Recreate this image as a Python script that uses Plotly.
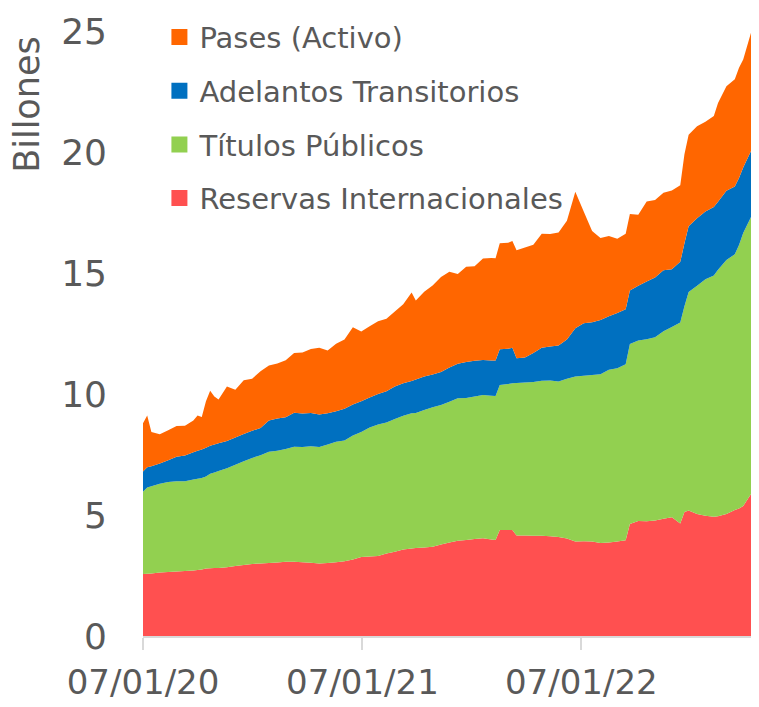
from datetime import date, timedelta

import plotly.graph_objects as go

# Semanas desde el 07/01/20 (dato semanal, muestreado)
INICIO = date(2020, 1, 7)
SEMANAS = [0, 1, 2, 4, 6, 8, 10, 12, 13, 14, 15, 16, 17, 18, 20, 22, 24, 26, 28, 30,
           32, 34, 36, 38, 40, 42, 44, 46, 48, 50, 52, 54, 56, 58, 60, 62, 64, 65, 67, 69,
           71, 73, 75, 77, 79, 81, 83, 84, 85, 87, 88, 89, 91, 93, 95, 97, 99, 101, 103, 105,
           107, 109, 111, 113, 115, 116, 118, 120, 122, 124, 126, 128, 129, 130, 132, 134, 136, 137, 139, 141,
           142, 143, 145, 146, 147]

# Billones de pesos
RESERVAS = [2.56, 2.57, 2.58, 2.62, 2.64, 2.67, 2.69, 2.71, 2.73, 2.75, 2.79, 2.80, 2.81, 2.81, 2.84, 2.89, 2.93, 2.98, 3.00, 3.02,
            3.04, 3.07, 3.07, 3.05, 3.03, 3.00, 3.02, 3.05, 3.09, 3.16, 3.26, 3.29, 3.31, 3.41, 3.48, 3.57, 3.62, 3.64, 3.66, 3.69,
            3.78, 3.86, 3.94, 3.97, 4.01, 4.04, 3.99, 3.97, 4.38, 4.38, 4.38, 4.15, 4.15, 4.14, 4.14, 4.12, 4.09, 4.03, 3.91, 3.92,
            3.91, 3.84, 3.86, 3.91, 3.96, 4.63, 4.75, 4.74, 4.77, 4.84, 4.91, 4.65, 5.12, 5.19, 5.04, 4.97, 4.93, 4.95, 5.04, 5.21,
            5.27, 5.37, 5.91, 5.95, 5.99]
TITULOS = [3.40, 3.57, 3.61, 3.67, 3.72, 3.72, 3.70, 3.76, 3.77, 3.78, 3.80, 3.90, 3.95, 4.01, 4.09, 4.19, 4.29, 4.38, 4.47, 4.59,
           4.62, 4.66, 4.75, 4.76, 4.81, 4.81, 4.89, 4.98, 4.99, 5.12, 5.17, 5.33, 5.43, 5.41, 5.49, 5.53, 5.58, 5.58, 5.68, 5.76,
           5.77, 5.82, 5.88, 5.86, 5.89, 5.92, 5.94, 5.95, 5.99, 6.03, 6.06, 6.30, 6.33, 6.36, 6.41, 6.44, 6.43, 6.60, 6.81, 6.83,
           6.87, 6.98, 7.14, 7.15, 7.27, 7.44, 7.46, 7.52, 7.58, 7.75, 7.86, 8.30, 8.51, 9.03, 9.43, 9.77, 9.97, 10.18, 10.50, 10.56,
           10.89, 11.28, 11.45, 11.74, 12.03]
ADELANTOS = [0.84, 0.83, 0.82, 0.84, 0.90, 1.02, 1.07, 1.12, 1.15, 1.18, 1.19, 1.16, 1.15, 1.14, 1.13, 1.12, 1.13, 1.12, 1.13, 1.30,
             1.33, 1.31, 1.41, 1.38, 1.38, 1.34, 1.29, 1.26, 1.31, 1.29, 1.27, 1.24, 1.26, 1.29, 1.34, 1.34, 1.34, 1.38, 1.38, 1.36,
             1.36, 1.41, 1.43, 1.49, 1.47, 1.45, 1.45, 1.46, 1.48, 1.46, 1.47, 1.03, 1.03, 1.19, 1.36, 1.40, 1.48, 1.62, 2.00, 2.17,
             2.19, 2.24, 2.21, 2.29, 2.27, 2.21, 2.26, 2.39, 2.46, 2.52, 2.38, 2.51, 2.60, 2.71, 2.79, 2.80, 2.83, 2.81, 2.86, 2.80,
             2.77, 2.71, 2.73, 2.73, 2.73]
PASES = [1.99, 2.14, 1.42, 1.21, 1.24, 1.27, 1.23, 1.32, 1.46, 1.34, 1.92, 2.27, 1.99, 1.81, 2.25, 1.98, 2.22, 2.15, 2.34, 2.27,
         2.27, 2.35, 2.46, 2.53, 2.64, 2.76, 2.60, 2.79, 2.86, 3.19, 2.88, 2.94, 3.01, 3.00, 3.10, 3.27, 3.65, 3.26, 3.51, 3.67,
         3.92, 3.96, 3.71, 3.94, 3.91, 4.19, 4.24, 4.23, 4.38, 4.38, 4.41, 4.46, 4.54, 4.48, 4.71, 4.65, 4.67, 4.91, 5.64, 4.62,
         3.77, 3.39, 3.32, 3.07, 3.12, 3.16, 2.94, 3.30, 3.21, 3.21, 3.26, 3.17, 3.68, 3.78, 3.80, 3.71, 3.76, 4.08, 4.32, 4.44,
         4.55, 4.46, 4.92, 4.59, 4.26]

SERIES = [
    ("Reservas Internacionales", RESERVAS, "#FF5050"),
    ("Títulos Públicos", TITULOS, "#92D050"),
    ("Adelantos Transitorios", ADELANTOS, "#0070C0"),
    ("Pases (Activo)", PASES, "#FF6600"),
]

TICKS_X = [date(2020, 1, 7), date(2021, 1, 7), date(2022, 1, 7)]
TICKS_Y = [0, 5, 10, 15, 20, 25]
# the page shows the series up to ~1014 days after the first date
FIN_VISIBLE = INICIO + timedelta(days=1014)

FONT = "DejaVu Sans"
GRIS = "#595959"

fechas = [INICIO + timedelta(weeks=w) for w in SEMANAS]

fig = go.Figure()
for name, vals, color in SERIES:
    fig.add_trace(go.Scatter(
        x=fechas, y=vals, name=name, stackgroup="one", mode="none",
        fillcolor=color, line=dict(width=0), showlegend=False, hoverinfo="x+y+name",
    ))

# legend entries: square swatches, top series first
for i, (name, vals, color) in enumerate(reversed(SERIES)):
    fig.add_trace(go.Scatter(
        x=[None], y=[None], name=name, mode="markers",
        marker=dict(symbol="square", size=16, color=color),
        legendgroup=f"g{i}", showlegend=True,
    ))

# page body keeps its default 8px margin, so the figure is sized to fit inside it
fig.update_layout(
    width=743, height=691,
    margin=dict(l=135, r=0, t=23, b=63),
    paper_bgcolor="white", plot_bgcolor="white",
    font=dict(family=FONT, size=28, color=GRIS),
    legend=dict(
        x=0.027, y=1.032, xanchor="left", yanchor="top",
        bgcolor="rgba(0,0,0,0)", traceorder="grouped", tracegroupgap=13,
        font=dict(size=29, color=GRIS), itemwidth=30,
    ),
    xaxis=dict(
        type="date", range=[fechas[0], FIN_VISIBLE], automargin=False,
        tickvals=TICKS_X, tickformat="%d/%m/%y",
        showgrid=False, zeroline=False,
        showline=True, linecolor="#D9D9D9", linewidth=1.5,
        ticks="outside", ticklen=12, tickcolor="#D9D9D9", tickwidth=1.5,
        ticklabelstandoff=3,
        tickfont=dict(size=34, color=GRIS),
    ),
    yaxis=dict(
        range=[0, 25], tickvals=TICKS_Y, automargin=False,
        showgrid=False, zeroline=False, showline=False,
        ticks="", ticklabelstandoff=35,
        tickfont=dict(size=36, color=GRIS),
    ),
    annotations=[dict(
        text="Billones", textangle=-90, xref="paper", yref="paper",
        x=0, y=0.878, xshift=-116, xanchor="center", yanchor="middle",
        showarrow=False, font=dict(size=35, color=GRIS),
    )],
)

fig.write_html("out.html")
